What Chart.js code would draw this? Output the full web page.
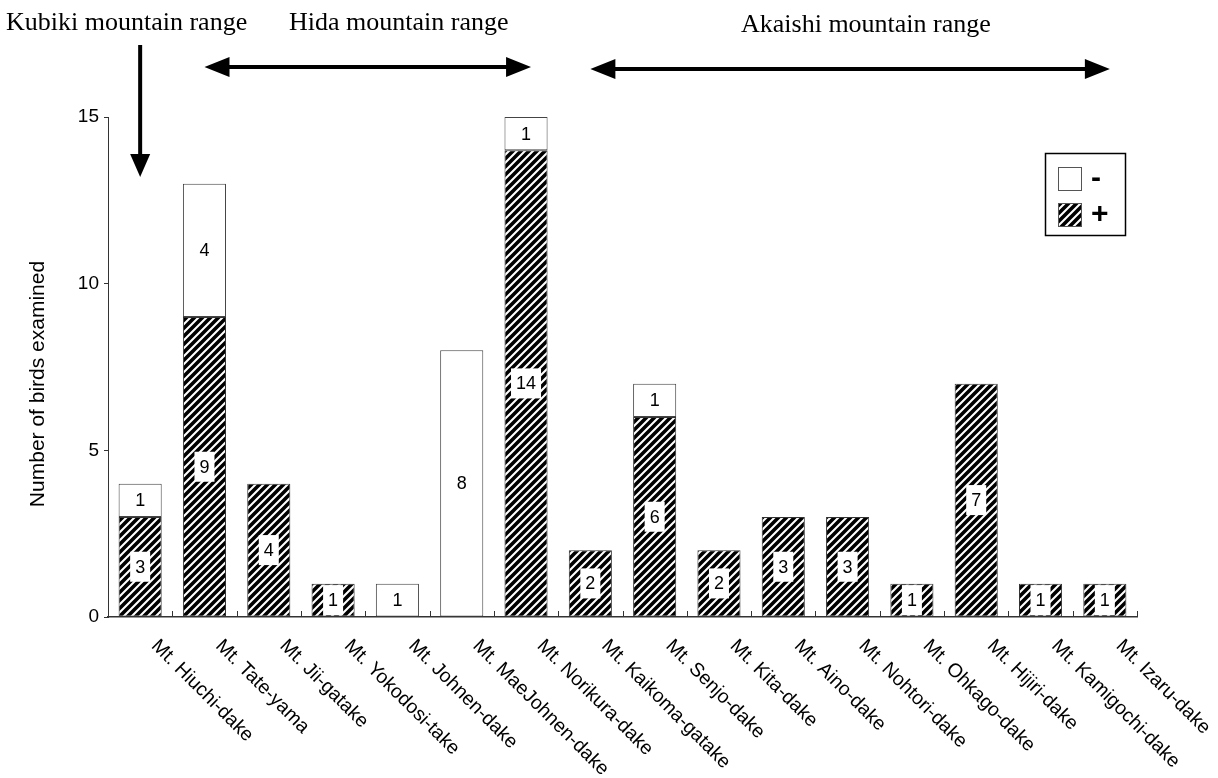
<!DOCTYPE html>
<html>
<head>
<meta charset="utf-8">
<script src="https://cdn.jsdelivr.net/npm/chart.js@4.4.0/dist/chart.umd.min.js"></script>
<style>
  html, body { margin: 0; padding: 0; background: #fff; }
</style>
</head>
<body>
<canvas id="chart" width="1218" height="778"></canvas>
<script>
const mountains = [
    'Mt. Hiuchi-dake', 'Mt. Tate-yama', 'Mt. Jii-gatake', 'Mt. Yokodosi-take',
    'Mt. Johnen-dake', 'Mt. MaeJohnen-dake', 'Mt. Norikura-dake', 'Mt. Kaikoma-gatake',
    'Mt. Senjo-dake', 'Mt. Kita-dake', 'Mt. Aino-dake', 'Mt. Nohtori-dake',
    'Mt. Ohkago-dake', 'Mt. Hijiri-dake', 'Mt. Kamigochi-dake', 'Mt. Izaru-dake'
];
const positive = [3, 9, 4, 1, 0, 0, 14, 2, 6, 2, 3, 3, 1, 7, 1, 1];
const negative = [1, 4, 0, 0, 1, 8, 1, 0, 1, 0, 0, 0, 0, 0, 0, 0];
const yTicks = [0, 5, 10, 15];
const yTitle = 'Number of birds examined';
const rangeNames = ['Kubiki mountain range', 'Hida mountain range', 'Akaishi mountain range'];
const rangeFirst = [0, 1, 7];
const rangeLast = [0, 6, 15];

const SANS = '"Liberation Sans", Arial, sans-serif';
const SERIF = '"Liberation Serif", "Times New Roman", serif';

const canvas = document.getElementById('chart');
const ctx = canvas.getContext('2d');

function makeHatch() {
    const s = 8;
    const tile = document.createElement('canvas');
    tile.width = s;
    tile.height = s;
    const g = tile.getContext('2d');
    g.fillStyle = '#fff';
    g.fillRect(0, 0, s, s);
    g.strokeStyle = '#000';
    g.lineWidth = 3.6;
    g.beginPath();
    g.moveTo(0, s); g.lineTo(s, 0);
    g.moveTo(-s / 2, s / 2); g.lineTo(s / 2, -s / 2);
    g.moveTo(s / 2, s * 1.5); g.lineTo(s * 1.5, s / 2);
    g.stroke();
    return ctx.createPattern(tile, 'repeat');
}
const hatch = makeHatch();

function arrowHead(c, x, y, dx, dy, len, half) {
    // tip at (x, y), pointing along (dx, dy)
    const px = -dy, py = dx;
    c.beginPath();
    c.moveTo(x, y);
    c.lineTo(x - dx * len + px * half, y - dy * len + py * half);
    c.lineTo(x - dx * len - px * half, y - dy * len - py * half);
    c.closePath();
    c.fill();
}

const extras = {
    id: 'extras',
    afterDraw(chart) {
        const c = chart.ctx;
        const xs = chart.scales.x;
        const area = chart.chartArea;

        // value labels inside the bars
        chart.data.datasets.forEach((ds, di) => {
            const meta = chart.getDatasetMeta(di);
            meta.data.forEach((el, i) => {
                const v = ds.data[i];
                if (!v) return;
                const p = el.getProps(['x', 'y', 'base', 'width'], true);
                const cy = (p.y + p.base) / 2;
                const txt = String(v);
                c.save();
                c.font = '18px ' + SANS;
                if (ds.backgroundColor === hatch) {
                    const w = c.measureText(txt).width + 10;
                    const top = Math.max(cy - 15, p.y + 1);
                    const bot = Math.min(cy + 15, p.base - 1);
                    c.fillStyle = '#fff';
                    c.fillRect(p.x - w / 2, top, w, bot - top);
                }
                c.fillStyle = '#000';
                c.textAlign = 'center';
                c.textBaseline = 'middle';
                c.fillText(txt, p.x, cy + 1);
                c.restore();
            });
        });

        // short upward ticks between categories
        const step = (area.right - area.left) / mountains.length;
        c.save();
        c.strokeStyle = '#333';
        c.lineWidth = 1;
        c.beginPath();
        for (let i = 1; i <= mountains.length; i++) {
            const x = Math.round(area.left + i * step) + 0.5;
            c.moveTo(x, area.bottom);
            c.lineTo(x, area.bottom - 6);
        }
        c.stroke();
        c.restore();

        // rotated category labels
        c.save();
        c.fillStyle = '#000';
        c.font = '19.5px ' + SANS;
        c.textAlign = 'left';
        c.textBaseline = 'top';
        mountains.forEach((name, i) => {
            const x = xs.getPixelForValue(i);
            c.save();
            c.translate(x + 21, area.bottom + 19);
            c.rotate(Math.PI / 4);
            c.fillText(name, 0, 0);
            c.restore();
        });
        c.restore();

        // y axis title
        c.save();
        c.fillStyle = '#000';
        c.font = '21px ' + SANS;
        c.textAlign = 'center';
        c.textBaseline = 'middle';
        c.translate(38, 384);
        c.rotate(-Math.PI / 2);
        c.fillText(yTitle, 0, 0);
        c.restore();

        // mountain range annotations
        c.save();
        c.fillStyle = '#000';
        c.strokeStyle = '#000';
        c.font = '26px ' + SERIF;
        c.textBaseline = 'alphabetic';
        c.textAlign = 'left';
        c.fillText(rangeNames[0], 6, 30);
        c.fillText(rangeNames[1], 289, 30);
        c.fillText(rangeNames[2], 741, 32);

        c.lineWidth = 4;
        // Kubiki: down arrow
        const kx = xs.getPixelForValue(rangeFirst[0]);
        c.beginPath();
        c.moveTo(kx, 45);
        c.lineTo(kx, 160);
        c.stroke();
        arrowHead(c, kx, 177, 0, 1, 23, 10);

        // Hida and Akaishi: double arrows
        [[1, 67], [2, 69]].forEach(([r, y]) => {
            const x1 = xs.getPixelForValue(rangeFirst[r]);
            const x2 = xs.getPixelForValue(rangeLast[r]) + 5;
            c.beginPath();
            c.moveTo(x1 + 15, y);
            c.lineTo(x2 - 15, y);
            c.stroke();
            arrowHead(c, x1, y, -1, 0, 25, 10);
            arrowHead(c, x2, y, 1, 0, 25, 10);
        });
        c.restore();

        // legend box
        c.save();
        c.strokeStyle = '#000';
        c.lineWidth = 1.5;
        c.strokeRect(1045.5, 153.5, 80, 82);
        const items = chart.data.datasets.slice().reverse();
        items.forEach((ds, k) => {
            const y = 167 + k * 36;
            c.fillStyle = ds.backgroundColor;
            c.fillRect(1058, y, 23, 23);
            c.strokeStyle = '#555';
            c.lineWidth = 1;
            c.strokeRect(1058.5, y + 0.5, 23, 23);
            c.fillStyle = '#000';
            c.font = 'bold 30px ' + SANS;
            c.textAlign = 'left';
            c.textBaseline = 'middle';
            c.fillText(ds.label, 1091, y + 12);
        });
        c.restore();
    }
};

new Chart(ctx, {
    type: 'bar',
    data: {
        labels: mountains,
        datasets: [{
            label: '+',
            data: positive,
            backgroundColor: hatch,
            borderColor: '#333',
            borderWidth: 1,
            borderSkipped: false,
            barPercentage: 0.67,
            categoryPercentage: 1
        }, {
            label: '-',
            data: negative,
            backgroundColor: '#fff',
            borderColor: '#444',
            borderWidth: 1,
            borderSkipped: false,
            barPercentage: 0.67,
            categoryPercentage: 1
        }]
    },
    options: {
        responsive: false,
        animation: false,
        devicePixelRatio: 1,
        layout: { padding: { top: 117, right: 81, left: 0, bottom: 0 } },
        plugins: {
            legend: { display: false },
            tooltip: { enabled: false }
        },
        scales: {
            x: {
                stacked: true,
                grid: { display: false },
                border: { display: true, color: '#333', width: 1.5 },
                ticks: { display: false },
                afterFit(scale) { scale.height = 161; }
            },
            y: {
                stacked: true,
                min: 0,
                max: 15,
                afterBuildTicks(scale) { scale.ticks = yTicks.map(v => ({ value: v })); },
                ticks: { color: '#000', font: { family: SANS, size: 19 }, padding: 5 },
                grid: { drawOnChartArea: false, tickLength: 4, color: '#333' },
                border: { color: '#333', width: 1 },
                afterFit(scale) { scale.width = 108; }
            }
        }
    },
    plugins: [extras]
});
</script>
</body>
</html>
